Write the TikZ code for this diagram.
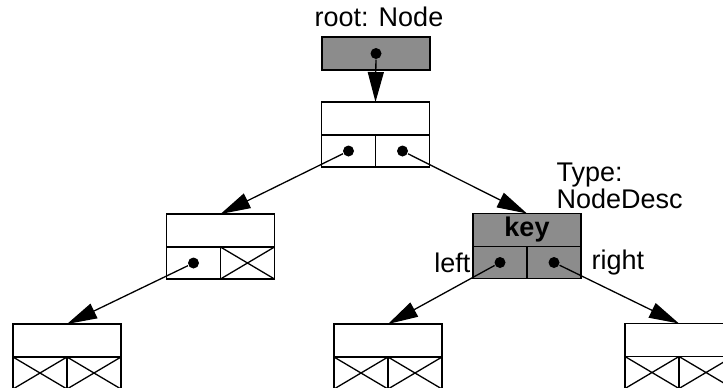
\documentclass[tikz,border=0pt]{standalone}
\usepackage{fontspec}
\setmainfont{Liberation Sans}
\usetikzlibrary{arrows.meta,positioning}

\begin{document}
\begin{tikzpicture}[x=0.5pt,y=-0.5pt,->,>={Triangle[length=15pt,width=8pt]},
  line width=0.65pt,
  key cell/.style={draw,minimum width=54pt,minimum height=16.5pt,inner sep=0pt,outer sep=0pt},
  ptr cell/.style={draw,minimum width=27pt,minimum height=16pt,inner sep=0pt,outer sep=0pt},
  desc/.style={fill=black!45},
  ptr dot/.style={circle,fill,inner sep=0pt,minimum size=5.5pt},
  label text/.style={font=\fontsize{13.5}{12.5}\selectfont,inner sep=1pt}]

  \useasboundingbox (0,0) rectangle (723,387);
  \clip (0,0) rectangle (723,387);

  % root variable
  \node[label text] (rootlbl) at (379,17) {root: Node};
  \node[key cell,desc] (root) at (376,53.5) {};
  \node[ptr dot] (rootd) at (root) {};

  % tree nodes: key cell on top, two pointer cells below
  \node[key cell] (n1) at (375.5,118.5) {};
  \node[ptr cell,anchor=north east] (n1l) at (n1.south) {};
  \node[ptr cell,anchor=north west] (n1r) at (n1.south) {};

  \node[key cell] (n2) at (220.5,230.5) {};
  \node[ptr cell,anchor=north east] (n2l) at (n2.south) {};
  \node[ptr cell,anchor=north west] (n2r) at (n2.south) {};

  \node[key cell,desc,label text,font=\fontsize{13.5}{12.5}\selectfont\bfseries] (n3) at (527,230) {key};
  \node[ptr cell,desc,anchor=north east] (n3l) at (n3.south) {};
  \node[ptr cell,desc,anchor=north west] (n3r) at (n3.south) {};

  \node[key cell] (n4) at (67,340.5) {};
  \node[ptr cell,anchor=north east] (n4l) at (n4.south) {};
  \node[ptr cell,anchor=north west] (n4r) at (n4.south) {};

  \node[key cell] (n5) at (388,340.5) {};
  \node[ptr cell,anchor=north east] (n5l) at (n5.south) {};
  \node[ptr cell,anchor=north west] (n5r) at (n5.south) {};

  \node[key cell] (n6) at (679,340) {};
  \node[ptr cell,anchor=north east] (n6l) at (n6.south) {};
  \node[ptr cell,anchor=north west] (n6r) at (n6.south) {};

  % pointers
  \foreach \p in {n1l,n1r,n2l,n3l,n3r}
    \node[ptr dot] (\p d) at (\p) {};

  % nil pointers
  \foreach \c in {n2r,n4l,n4r,n5l,n5r,n6l,n6r}
    \draw[-] (\c.north west) -- (\c.south east) (\c.north east) -- (\c.south west);

  \node[label text,left=0pt of n3l] (leftlbl) {left};
  \node[label text,right=4pt of n3r] (rightlbl) {right};
  \node[label text,align=left,anchor=north west,inner sep=0pt] (typelbl) at (556,162) {Type:\\NodeDesc};

  \path
    (rootd) edge (n1.north)
    (n1ld) edge (n2.north)
    (n1rd) edge (n3.north)
    (n2ld) edge (n4.north)
    (n3ld) edge (n5.north)
    (n3rd) edge (n6.north);
\end{tikzpicture}
\end{document}
